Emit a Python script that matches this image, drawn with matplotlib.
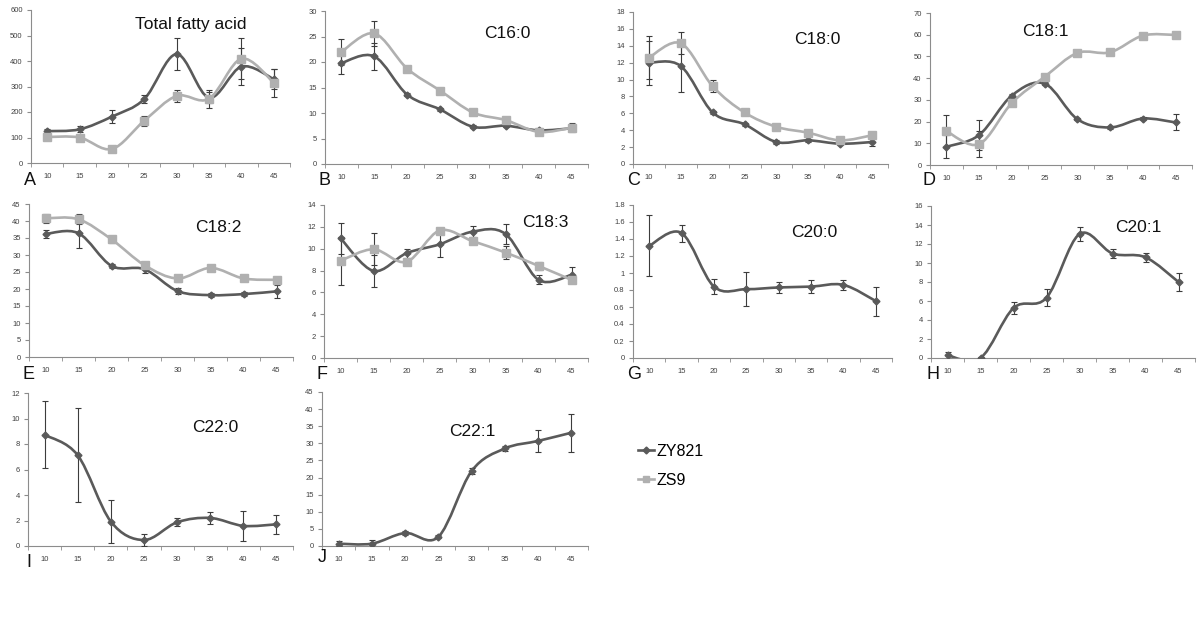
import numpy as np
import matplotlib.pyplot as plt
from matplotlib.path import Path
from matplotlib.patches import PathPatch
from matplotlib.ticker import FuncFormatter

plt.rcParams["font.family"] = ["Liberation Sans", "DejaVu Sans"]

W, H = 1200, 620

TEMPS = ["10", "15", "20", "25", "30", "35", "40", "45"]

# Total fatty acid
TOTAL_ZY = [125, 132, 182, 251, 427, 256, 378, 329]
TOTAL_ZY_SD = [10, 12, 26, 14, 62, 22, 72, 38]
TOTAL_ZS = [102, 100, 55, 166, 263, 252, 409, 315]
TOTAL_ZS_SD = [6, 8, 5, 20, 24, 36, 80, 55]

# C16:0
C160_ZY = [19.8, 21.1, 13.6, 10.7, 7.3, 7.5, 6.6, 7.0]
C160_ZY_SD = [2.2, 2.7, 0.3, 0.3, 0.3, 0.3, 0.4, 0.5]
C160_ZS = [22.0, 25.6, 18.7, 14.4, 10.1, 8.6, 6.3, 7.1]
C160_ZS_SD = [2.6, 2.5, 0.6, 0.3, 0.3, 0.3, 0.3, 0.9]

# C18:0
C180_ZY = [12.0, 11.6, 6.1, 4.7, 2.6, 2.8, 2.4, 2.6]
C180_ZY_SD = [2.6, 3.1, 0.2, 0.2, 0.2, 0.2, 0.2, 0.5]
C180_ZS = [12.6, 14.3, 9.2, 6.1, 4.4, 3.7, 2.8, 3.4]
C180_ZS_SD = [2.5, 1.3, 0.7, 0.2, 0.2, 0.2, 0.2, 0.3]

# C18:1
C181_ZY = [8.4, 13.8, 32.0, 37.5, 21.1, 17.3, 21.4, 19.6]
C181_ZY_SD = [5.4, 6.8, 0.8, 0.8, 0.5, 0.6, 0.8, 3.7]
C181_ZS = [15.6, 9.6, 28.6, 40.6, 51.6, 51.9, 59.6, 59.9]
C181_ZS_SD = [7.2, 6.0, 0.8, 0.8, 0.6, 0.6, 0.6, 1.0]

# C18:2
C182_ZY = [36.2, 36.4, 26.8, 25.8, 19.4, 18.2, 18.5, 19.3]
C182_ZY_SD = [1.3, 4.2, 0.5, 1.2, 1.0, 0.6, 0.5, 1.9]
C182_ZS = [40.8, 40.5, 34.6, 27.0, 23.1, 26.2, 23.1, 22.7]
C182_ZS_SD = [1.3, 1.5, 1.0, 0.5, 1.0, 0.4, 0.4, 0.4]

# C18:3
C183_ZY = [10.96, 7.97, 9.59, 10.4, 11.56, 11.35, 7.15, 7.6]
C183_ZY_SD = [1.4, 1.45, 0.4, 1.2, 0.5, 0.9, 0.4, 0.7]
C183_ZS = [8.9, 9.95, 8.8, 11.66, 10.7, 9.65, 8.43, 7.15]
C183_ZS_SD = [2.2, 1.45, 0.3, 0.2, 0.2, 0.6, 0.4, 0.2]

# C20:0
C200_ZY = [1.32, 1.47, 0.84, 0.81, 0.83, 0.84, 0.86, 0.67]
C200_ZY_SD = [0.36, 0.1, 0.09, 0.2, 0.07, 0.08, 0.06, 0.17]

# C20:1
C201_ZY = [0.28, 0.0, 5.26, 6.35, 13.05, 11.0, 10.6, 8.0]
C201_ZY_SD = [0.4, 0.1, 0.6, 0.9, 0.75, 0.5, 0.5, 0.9]

# C22:0
C220_ZY = [8.72, 7.12, 1.92, 0.47, 1.86, 2.2, 1.58, 1.7]
C220_ZY_SD = [2.63, 3.7, 1.65, 0.5, 0.3, 0.5, 1.15, 0.75]

# C22:1
C221_ZY = [0.68, 0.68, 3.8, 2.7, 21.9, 28.5, 30.7, 33.1]
C221_ZY_SD = [0.7, 1.2, 0.6, 0.4, 0.8, 0.6, 3.1, 5.5]

ZY_COLOR = "#5a5a5a"
ZS_COLOR = "#b0b0b0"
ERR_COLOR = "#3c3c3c"
AXIS_COLOR = "#8c8c8c"

# (title, letter, zy, zy_sd, zs, zs_sd, ymax, ystep, axes box px (l, t, r, b), title xy px, letter xy px)
PANELS = [
    ("Total fatty acid", "A", TOTAL_ZY, TOTAL_ZY_SD, TOTAL_ZS, TOTAL_ZS_SD, 600, 100,
     (31, 10, 290, 163), (191, 25), (24, 185)),
    ("C16:0", "B", C160_ZY, C160_ZY_SD, C160_ZS, C160_ZS_SD, 30, 5,
     (325, 11, 588, 164), (507, 33), (318, 185)),
    ("C18:0", "C", C180_ZY, C180_ZY_SD, C180_ZS, C180_ZS_SD, 18, 2,
     (633, 12, 888, 164), (817, 40), (627, 185)),
    ("C18:1", "D", C181_ZY, C181_ZY_SD, C181_ZS, C181_ZS_SD, 70, 10,
     (930, 13, 1192, 165), (1045, 32), (923, 185)),
    ("C18:2", "E", C182_ZY, C182_ZY_SD, C182_ZS, C182_ZS_SD, 45, 5,
     (29, 204, 293, 357), (218, 227), (22, 379)),
    ("C18:3", "F", C183_ZY, C183_ZY_SD, C183_ZS, C183_ZS_SD, 14, 2,
     (324, 205, 588, 358), (545, 222), (317, 379)),
    ("C20:0", "G", C200_ZY, C200_ZY_SD, None, None, 1.8, 0.2,
     (633, 205, 892, 358), (814, 232), (627, 379)),
    ("C20:1", "H", C201_ZY, C201_ZY_SD, None, None, 16, 2,
     (931, 206, 1195, 358), (1138, 228), (927, 379)),
    ("C22:0", "I", C220_ZY, C220_ZY_SD, None, None, 12, 2,
     (28, 393, 293, 546), (215, 427), (26, 567)),
    ("C22:1", "J", C221_ZY, C221_ZY_SD, None, None, 45, 5,
     (322, 392, 588, 546), (472, 432), (318, 562)),
]


def px_box(l, t, r, b):
    return [l / W, 1 - b / H, (r - l) / W, (b - t) / H]


def smooth_path(x, y):
    # Excel-style smoothed line: cubic Bezier through every data point
    pts = np.column_stack([x, y]).astype(float)
    n = len(pts)
    verts = [pts[0]]
    codes = [Path.MOVETO]
    for i in range(n - 1):
        p0 = pts[max(i - 1, 0)]
        p1 = pts[i]
        p2 = pts[i + 1]
        p3 = pts[min(i + 2, n - 1)]
        verts += [p1 + (p2 - p0) / 6, p2 - (p3 - p1) / 6, p2]
        codes += [Path.CURVE4] * 3
    return Path(verts, codes)


def draw_series(ax, y, sd, color, marker, ms):
    x = np.arange(len(y))
    ax.add_patch(PathPatch(smooth_path(x, y), fill=False, edgecolor=color,
                           lw=1.9, zorder=2))
    ax.errorbar(x, y, yerr=sd, fmt="none", ecolor=ERR_COLOR, elinewidth=0.8,
                capsize=2, capthick=0.8, zorder=3)
    ax.plot(x, y, ls="none", marker=marker, ms=ms, color=color, zorder=4)


fig = plt.figure(figsize=(W / 100, H / 100), dpi=100)

for (title, letter, zy, zy_sd, zs, zs_sd, ymax, ystep, box, tpos, lpos) in PANELS:
    ax = fig.add_axes(px_box(*box))
    draw_series(ax, zy, zy_sd, ZY_COLOR, "D", 3.5)
    if zs is not None:
        draw_series(ax, zs, zs_sd, ZS_COLOR, "s", 5.5)

    n = len(TEMPS)
    ax.set_xlim(-0.5, n - 0.5)
    ax.set_ylim(0, ymax)
    ax.set_xticks(np.arange(n))
    ax.set_xticklabels(TEMPS)
    ax.set_xticks(np.arange(n + 1) - 0.5, minor=True)
    ax.set_yticks(np.arange(0, ymax + ystep / 2, ystep))
    ax.yaxis.set_major_formatter(FuncFormatter(lambda v, p: f"{round(v, 3):g}"))

    for side in ("top", "right"):
        ax.spines[side].set_visible(False)
    for side in ("left", "bottom"):
        ax.spines[side].set_color(AXIS_COLOR)
        ax.spines[side].set_linewidth(0.8)
    ax.tick_params(axis="x", which="major", length=0, labelsize=5.5,
                   labelcolor="#404040", pad=7)
    ax.tick_params(axis="x", which="minor", length=3, color=AXIS_COLOR,
                   direction="out")
    ax.tick_params(axis="y", length=3, color=AXIS_COLOR, direction="out",
                   labelsize=5.5, labelcolor="#404040", pad=3)

    fig.text(tpos[0] / W, 1 - tpos[1] / H, title, fontsize=12.5,
             ha="center", va="center", color="#111111")
    fig.text(lpos[0] / W, 1 - lpos[1] / H, letter, fontsize=13,
             ha="left", va="baseline", color="#111111")

fig.legend(handles=[
    plt.Line2D([], [], color=ZY_COLOR, lw=1.9, marker="D", ms=3.5),
    plt.Line2D([], [], color=ZS_COLOR, lw=1.9, marker="s", ms=5),
], labels=["ZY821", "ZS9"], loc="upper left",
    bbox_to_anchor=(638 / W, 1 - 444 / H), frameon=False, fontsize=11.5,
    handlelength=1.0, handletextpad=0.15, labelspacing=0.85,
    borderaxespad=0, borderpad=0)

fig.savefig("out.png", dpi=100, facecolor="white")
